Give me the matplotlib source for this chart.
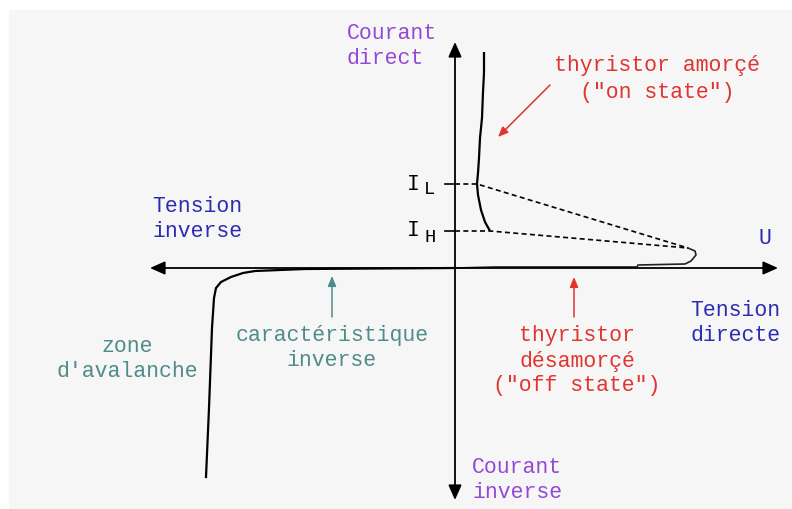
import matplotlib
matplotlib.use("Agg")
import matplotlib.pyplot as plt
from matplotlib.patches import Rectangle

# ---- data (u: tension, i: courant), origin at axes crossing ----
on_u = [29, 29, 28, 27, 25, 24, 23, 22, 23, 26, 30, 35]
on_i = [216, 195, 176, 150, 130, 110, 95, 84, 73, 58, 46, 37]

off_u = [0, 40, 182, 183, 230, 236, 241, 240, 233]
off_i = [0, 1, 1, 3, 4, 7, 13, 17, 20]

rev_u = [0, -150, -200, -212, -224, -234, -239, -241, -243, -246, -249]
rev_i = [0, -1, -3, -5, -9, -14, -20, -30, -60, -140, -209]

IL = 84
IH = 37
peak = (233, 20)
IL_on_u = 22
IH_on_u = 35

FS = 15.5
MONO = "Liberation Mono"
PURPLE = "#9448d6"
RED = "#e0342f"
BLUE = "#2c2cb0"
TEAL = "#4e8c8a"

fig = plt.figure(figsize=(7.92, 5.09), dpi=100, facecolor="white")
ax = fig.add_axes([0, 0, 1, 1])
ax.set_xlim(-455, 337)
ax.set_ylim(-241, 268)
ax.axis("off")

# light grey panel
fig.patches.append(Rectangle((9 / 792, 0), 1, 1 - 10 / 509, transform=fig.transFigure,
                             facecolor="#f6f6f6", edgecolor="none", zorder=-10))

# axes arrows
head = dict(arrowstyle="-|>,head_length=0.9,head_width=0.4", color="black", lw=1.3,
            shrinkA=0, shrinkB=0)
ax.annotate("", xy=(323, 0), xytext=(0, 0), arrowprops=head)
ax.annotate("", xy=(-305, 0), xytext=(0, 0), arrowprops=head)
ax.annotate("", xy=(0, 226), xytext=(0, 0), arrowprops=head)
ax.annotate("", xy=(0, -232), xytext=(0, 0), arrowprops=head)

# curves
ax.plot(on_u, on_i, color="black", lw=1.6, solid_capstyle="butt")
ax.plot(off_u, off_i, color="#222222", lw=1.2)
ax.plot(rev_u, rev_i, color="black", lw=1.6)

# IL / IH ticks and dashed lines
for lvl, u_on in [(IL, IL_on_u), (IH, IH_on_u)]:
    ax.plot([-10, 0], [lvl, lvl], color="black", lw=1.2)
    ax.plot([0, u_on, peak[0]], [lvl, lvl, peak[1]], color="black", lw=1.2,
            linestyle=(0, (3, 2)))

ax.text(-42, IL, "I", family=MONO, fontsize=FS, ha="center", va="center")
ax.text(-25, IL - 6, "L", family=MONO, fontsize=FS - 2, ha="center", va="center")
ax.text(-42, IH, "I", family=MONO, fontsize=FS, ha="center", va="center")
ax.text(-25, IH - 6, "H", family=MONO, fontsize=FS - 2, ha="center", va="center")

# annotation arrows
small = dict(arrowstyle="-|>,head_length=0.6,head_width=0.25", lw=1.1, shrinkA=0, shrinkB=0)
ax.annotate("", xy=(43, 131), xytext=(95, 183), arrowprops=dict(small, color=RED))
ax.annotate("", xy=(-123, -8), xytext=(-123, -49), arrowprops=dict(small, color=TEAL))
ax.annotate("", xy=(119, -9), xytext=(119, -49), arrowprops=dict(small, color=RED))

# labels
ax.text(-108, 222, "Courant\ndirect", family=MONO, fontsize=FS, color=PURPLE,
        ha="left", va="center", linespacing=1.25)
ax.text(202, 189, "thyristor amorçé\n(\"on state\")", family=MONO, fontsize=FS, color=RED,
        ha="center", va="center", linespacing=1.35)
ax.text(-303, 49, "Tension\ninverse", family=MONO, fontsize=FS, color=BLUE,
        ha="left", va="center", linespacing=1.25)
ax.text(310, 29, "U", family=MONO, fontsize=FS, color=BLUE, ha="center", va="center")
ax.text(-328, -91, "zone\nd'avalanche", family=MONO, fontsize=FS, color=TEAL,
        ha="center", va="center", linespacing=1.25)
ax.text(-123, -80, "caractéristique\ninverse", family=MONO, fontsize=FS, color=TEAL,
        ha="center", va="center", linespacing=1.25)
ax.text(122, -93, "thyristor\ndésamorçé\n(\"off state\")", family=MONO, fontsize=FS,
        color=RED, ha="center", va="center", linespacing=1.25)
ax.text(235, -55, "Tension\ndirecte", family=MONO, fontsize=FS, color=BLUE,
        ha="left", va="center", linespacing=1.25)
ax.text(17, -212, "Courant\ninverse", family=MONO, fontsize=FS, color=PURPLE,
        ha="left", va="center", linespacing=1.25)

fig.savefig("out.png", dpi=100, facecolor=fig.get_facecolor())
